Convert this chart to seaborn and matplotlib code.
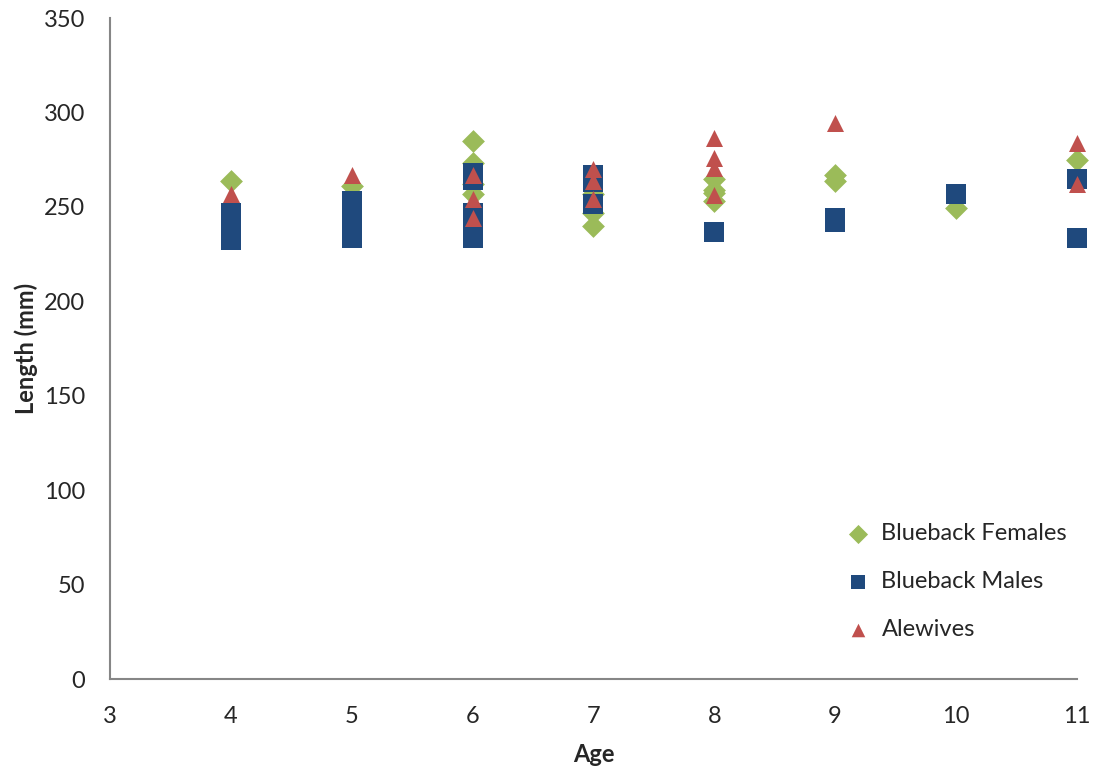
import pandas as pd
import matplotlib.pyplot as plt
import seaborn as sns

# data (age, length in mm)
fem_age = [4, 5, 6, 6, 6, 6, 7, 7, 7, 8, 8, 8, 8, 9, 9, 10, 11]
fem_len = [263.5, 261, 284.7, 273.5, 257, 262, 257, 247, 239.7, 265, 259, 257.5, 253, 266.7, 263.5, 249.4, 274.6]

male_age = [4, 4, 4, 4, 4, 4, 5, 5, 5, 5, 5, 5, 5, 6, 6, 6, 6, 6, 6, 6, 6,
            7, 7, 7, 7, 8, 9, 9, 10, 11, 11]
male_len = [247, 244, 241, 238, 235, 232.5, 253, 250, 247, 244, 240, 237, 233.5,
            268, 264, 247, 244, 241, 238, 235.5, 233.7,
            267, 264, 263, 251.7, 236.5, 244, 242, 256.7, 264.7, 233.6]

ale_age = [4, 5, 6, 6, 6, 7, 7, 7, 8, 8, 8, 8, 9, 11, 11]
ale_len = [257, 267, 267, 254, 244, 270, 263.5, 254, 286.4, 276, 270.5, 256.5, 294.3, 284, 262.3]

groups = ['Blueback Females', 'Blueback Males', 'Alewives']
df = pd.concat([
    pd.DataFrame({'Age': fem_age, 'Length': fem_len, 'Group': groups[0]}),
    pd.DataFrame({'Age': male_age, 'Length': male_len, 'Group': groups[1]}),
    pd.DataFrame({'Age': ale_age, 'Length': ale_len, 'Group': groups[2]}),
])

palette = {groups[0]: '#9BBB59', groups[1]: '#1F497D', groups[2]: '#C0504D'}
markers = {groups[0]: 'D', groups[1]: 's', groups[2]: '^'}
sizes = {groups[0]: 135, groups[1]: 190, groups[2]: 150}

sns.set_style('white')
plt.rcParams['font.family'] = ['Lato', 'DejaVu Sans']

fig = plt.figure(figsize=(10.95, 7.73), dpi=100)
ax = fig.add_axes([0.1005, 0.1213, 0.8828, 0.8554])

for g in groups:
    sub = df[df['Group'] == g]
    sns.scatterplot(data=sub, x='Age', y='Length', color=palette[g], marker=markers[g],
                    s=sizes[g], linewidth=0, label=g, ax=ax, clip_on=False,
                    zorder=3 if g == groups[2] else 2)

ax.set_xlim(3, 11)
ax.set_ylim(0, 350)
ax.set_xticks(range(3, 12))
ax.set_yticks(range(0, 351, 50))
ax.tick_params(length=0, labelsize=17)
ax.tick_params(axis='x', pad=19)
ax.tick_params(axis='y', pad=18)
ax.set_xlabel('Age', fontsize=17, fontweight='bold', labelpad=12)
ax.set_ylabel('Length (mm)', fontsize=17, fontweight='bold', labelpad=4)
for s in ['top', 'right']:
    ax.spines[s].set_visible(False)
for s in ['left', 'bottom']:
    ax.spines[s].set_color('#868686')
    ax.spines[s].set_linewidth(1.5)

leg = ax.legend(loc='lower right', bbox_to_anchor=(1.012, 0.027), frameon=False, fontsize=17,
                handletextpad=0.0, labelspacing=1.15)
for h in leg.legend_handles:
    h.set_sizes([95])

fig.savefig('out.png', dpi=100)
